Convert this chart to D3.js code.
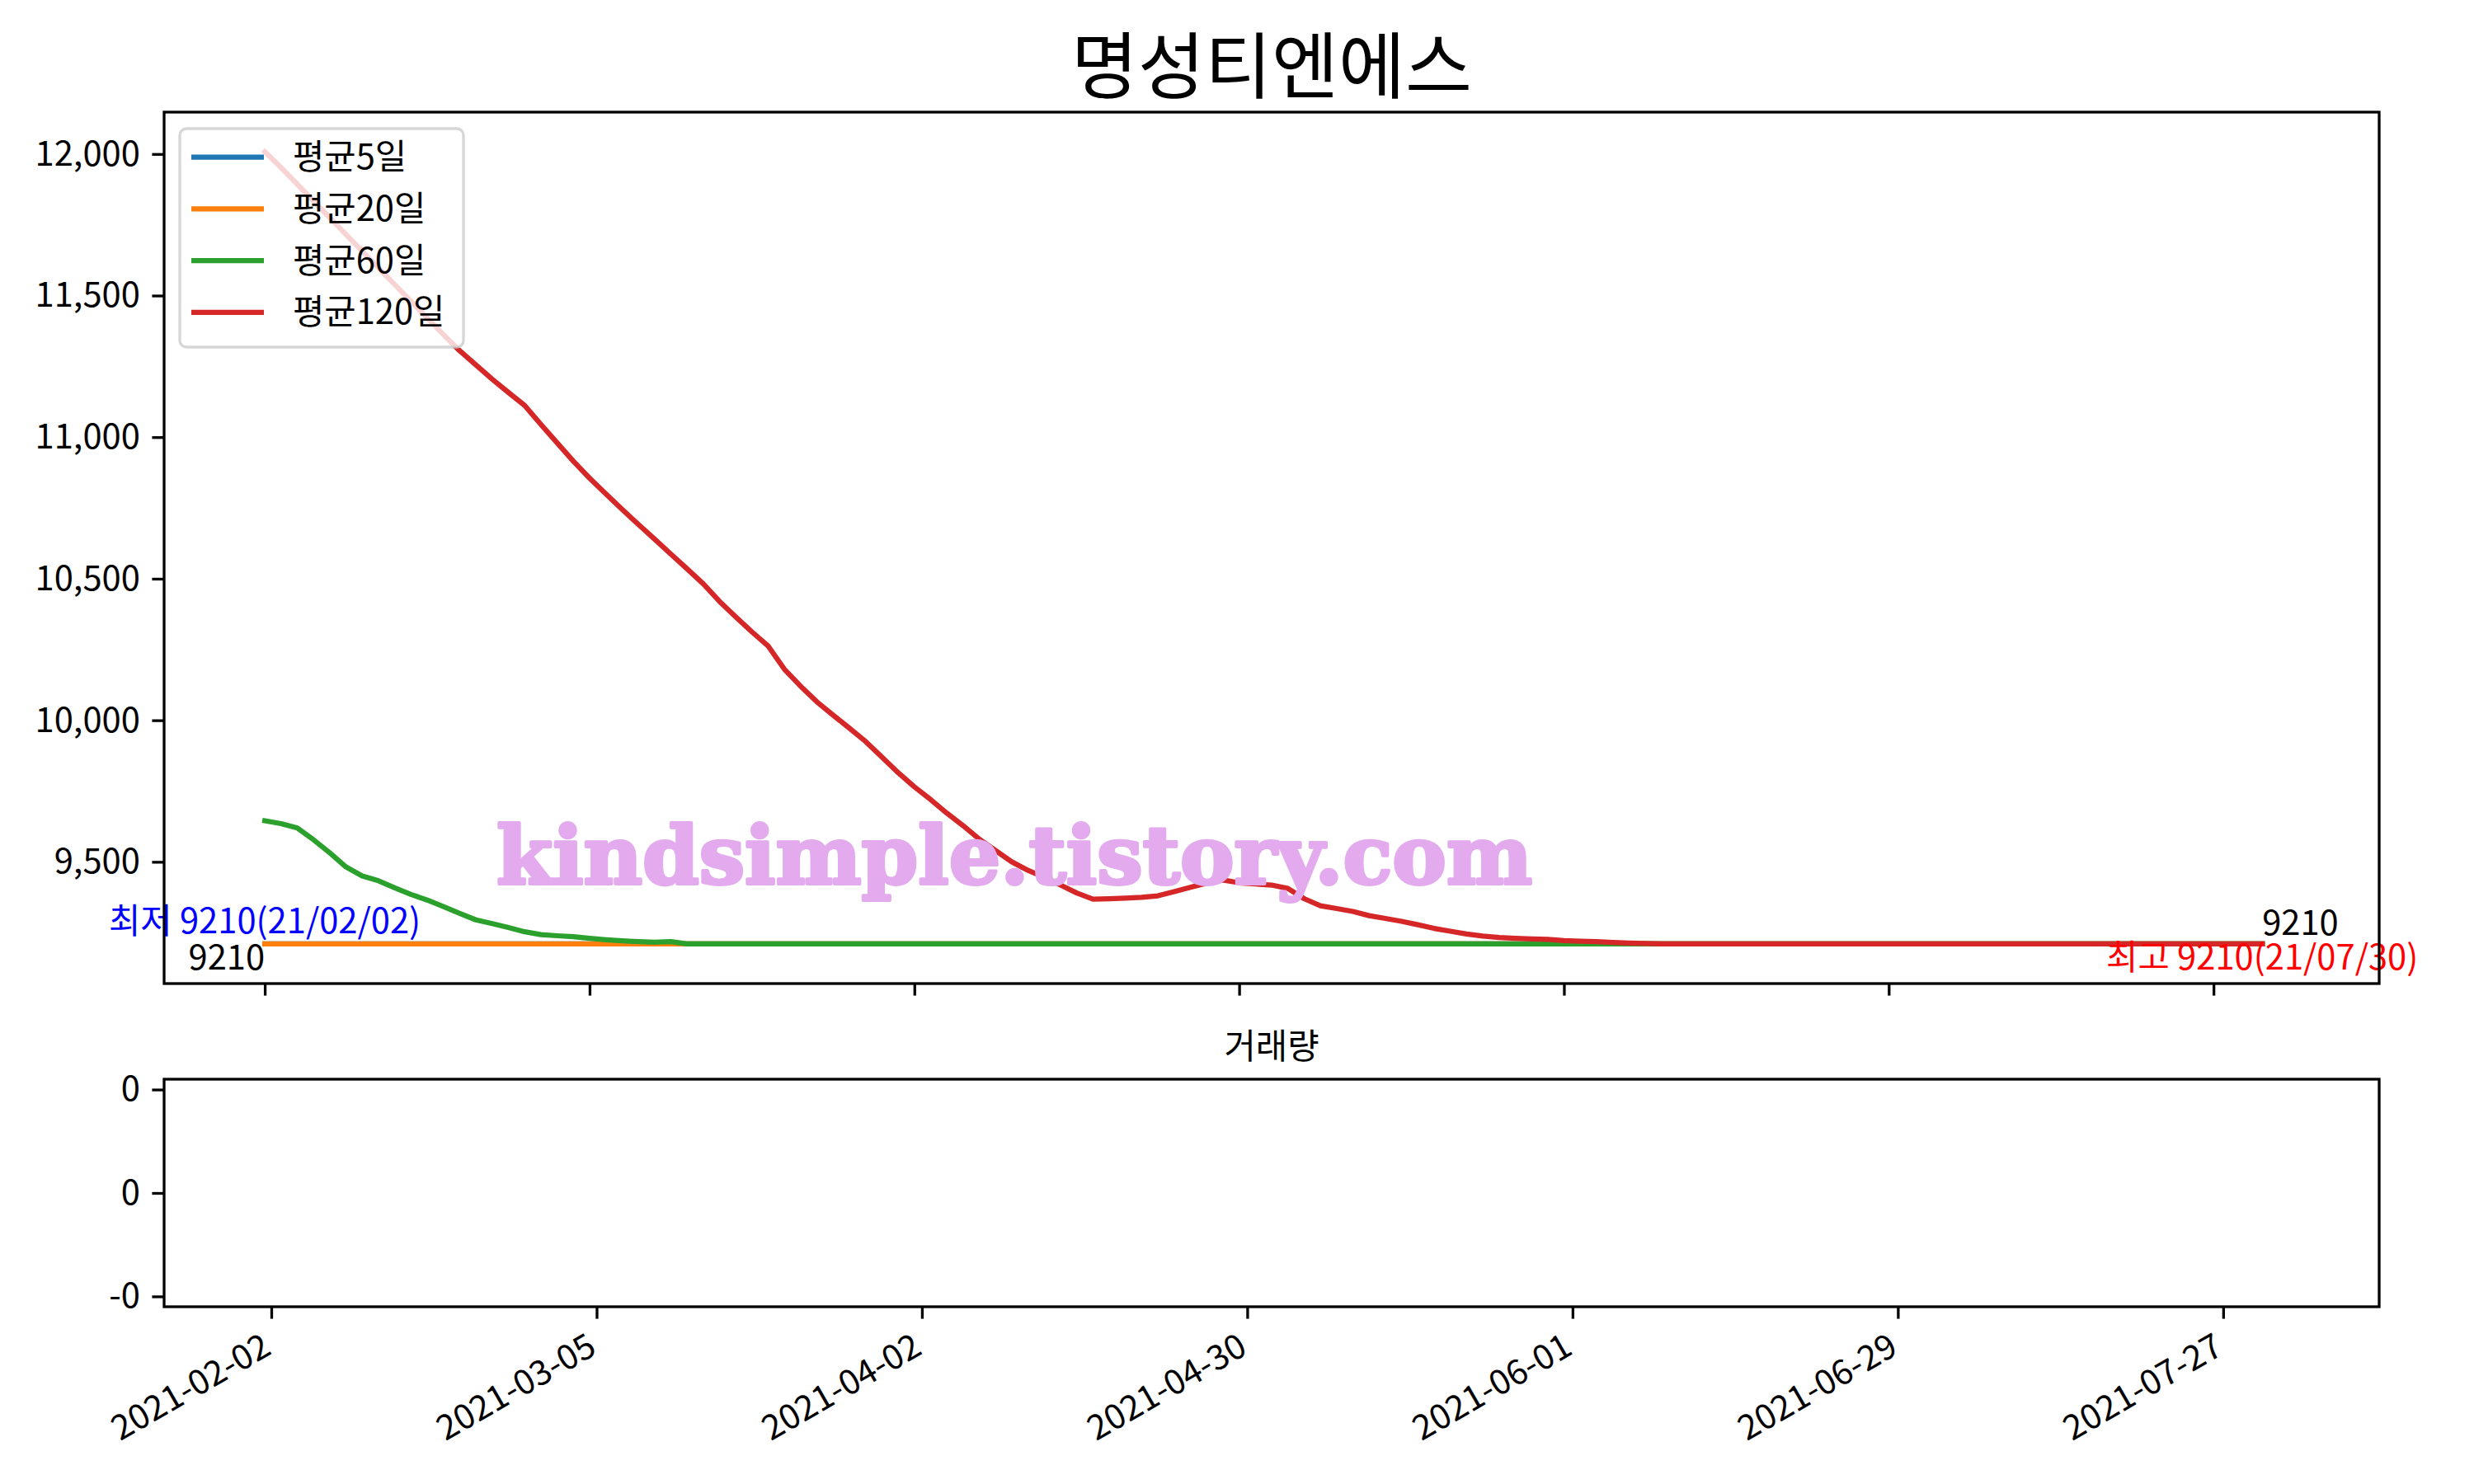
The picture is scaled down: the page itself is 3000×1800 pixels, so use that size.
<!DOCTYPE html>
<html>
<head>
<meta charset="utf-8">
<script src="https://cdn.jsdelivr.net/npm/d3@7"></script>
<style>
  body { margin: 0; background: #fff; }
  text { font-family: "Noto Sans CJK KR", "Noto Sans", sans-serif; }
</style>
</head>
<body>
<svg id="chart"></svg>
<script>
const title = "명성티엔에스"
const volTitle = "거래량"
const seriesNames = ["평균5일", "평균20일", "평균60일", "평균120일"]
const seriesColors = ["#1f77b4", "#ff7f0e", "#2ca02c", "#d62728"]

// moving averages, one value per trading day (124 days, 2021-02-02 .. 2021-07-30)
const ma5 = [
  9210, 9210, 9210, 9210, 9210, 9210, 9210, 9210, 9210, 9210,
  9210, 9210, 9210, 9210, 9210, 9210, 9210, 9210, 9210, 9210,
  9210, 9210, 9210, 9210, 9210, 9210, 9210, 9210, 9210, 9210,
  9210, 9210, 9210, 9210, 9210, 9210, 9210, 9210, 9210, 9210,
  9210, 9210, 9210, 9210, 9210, 9210, 9210, 9210, 9210, 9210,
  9210, 9210, 9210, 9210, 9210, 9210, 9210, 9210, 9210, 9210,
  9210, 9210, 9210, 9210, 9210, 9210, 9210, 9210, 9210, 9210,
  9210, 9210, 9210, 9210, 9210, 9210, 9210, 9210, 9210, 9210,
  9210, 9210, 9210, 9210, 9210, 9210, 9210, 9210, 9210, 9210,
  9210, 9210, 9210, 9210, 9210, 9210, 9210, 9210, 9210, 9210,
  9210, 9210, 9210, 9210, 9210, 9210, 9210, 9210, 9210, 9210,
  9210, 9210, 9210, 9210, 9210, 9210, 9210, 9210, 9210, 9210,
  9210, 9210, 9210, 9210
]
const ma20 = [
  9210, 9210, 9210, 9210, 9210, 9210, 9210, 9210, 9210, 9210,
  9210, 9210, 9210, 9210, 9210, 9210, 9210, 9210, 9210, 9210,
  9210, 9210, 9210, 9210, 9210, 9210, 9210, 9210, 9210, 9210,
  9210, 9210, 9210, 9210, 9210, 9210, 9210, 9210, 9210, 9210,
  9210, 9210, 9210, 9210, 9210, 9210, 9210, 9210, 9210, 9210,
  9210, 9210, 9210, 9210, 9210, 9210, 9210, 9210, 9210, 9210,
  9210, 9210, 9210, 9210, 9210, 9210, 9210, 9210, 9210, 9210,
  9210, 9210, 9210, 9210, 9210, 9210, 9210, 9210, 9210, 9210,
  9210, 9210, 9210, 9210, 9210, 9210, 9210, 9210, 9210, 9210,
  9210, 9210, 9210, 9210, 9210, 9210, 9210, 9210, 9210, 9210,
  9210, 9210, 9210, 9210, 9210, 9210, 9210, 9210, 9210, 9210,
  9210, 9210, 9210, 9210, 9210, 9210, 9210, 9210, 9210, 9210,
  9210, 9210, 9210, 9210
]
const ma60 = [
  9645, 9635, 9620, 9578, 9532, 9482, 9450, 9433, 9408, 9385,
  9365, 9342, 9318, 9295, 9282, 9268, 9253, 9243, 9239, 9236,
  9230, 9225, 9221, 9218, 9216, 9218, 9210, 9210, 9210, 9210,
  9210, 9210, 9210, 9210, 9210, 9210, 9210, 9210, 9210, 9210,
  9210, 9210, 9210, 9210, 9210, 9210, 9210, 9210, 9210, 9210,
  9210, 9210, 9210, 9210, 9210, 9210, 9210, 9210, 9210, 9210,
  9210, 9210, 9210, 9210, 9210, 9210, 9210, 9210, 9210, 9210,
  9210, 9210, 9210, 9210, 9210, 9210, 9210, 9210, 9210, 9210,
  9210, 9210, 9210, 9210, 9210, 9210, 9210, 9210, 9210, 9210,
  9210, 9210, 9210, 9210, 9210, 9210, 9210, 9210, 9210, 9210,
  9210, 9210, 9210, 9210, 9210, 9210, 9210, 9210, 9210, 9210,
  9210, 9210, 9210, 9210, 9210, 9210, 9210, 9210, 9210, 9210,
  9210, 9210, 9210, 9210
]
const ma120 = [
  12008, 11952, 11893, 11834, 11775, 11716, 11657, 11598, 11539, 11480,
  11421, 11362, 11305, 11255, 11205, 11158, 11112, 11045, 10980, 10915,
  10855, 10800, 10745, 10692, 10640, 10587, 10535, 10482, 10420, 10365,
  10312, 10262, 10180, 10120, 10065, 10018, 9972, 9925, 9870, 9815,
  9765, 9720, 9672, 9628, 9580, 9540, 9500, 9470, 9445, 9418,
  9390, 9368, 9370, 9372, 9375, 9380, 9395, 9410, 9425, 9436,
  9426, 9422, 9418, 9406, 9370, 9345, 9335, 9325, 9310, 9300,
  9290, 9278, 9265, 9255, 9245, 9238, 9233, 9230, 9228, 9226,
  9222, 9220, 9218, 9215, 9213, 9212, 9210, 9210, 9210, 9210,
  9210, 9210, 9210, 9210, 9210, 9210, 9210, 9210, 9210, 9210,
  9210, 9210, 9210, 9210, 9210, 9210, 9210, 9210, 9210, 9210,
  9210, 9210, 9210, 9210, 9210, 9210, 9210, 9210, 9210, 9210,
  9210, 9210, 9210, 9210
]
const volume = [
  0, 0, 0, 0, 0, 0, 0, 0, 0, 0, 0, 0, 0, 0, 0, 0, 0, 0, 0, 0,
  0, 0, 0, 0, 0, 0, 0, 0, 0, 0, 0, 0, 0, 0, 0, 0, 0, 0, 0, 0,
  0, 0, 0, 0, 0, 0, 0, 0, 0, 0, 0, 0, 0, 0, 0, 0, 0, 0, 0, 0,
  0, 0, 0, 0, 0, 0, 0, 0, 0, 0, 0, 0, 0, 0, 0, 0, 0, 0, 0, 0,
  0, 0, 0, 0, 0, 0, 0, 0, 0, 0, 0, 0, 0, 0, 0, 0, 0, 0, 0, 0,
  0, 0, 0, 0, 0, 0, 0, 0, 0, 0, 0, 0, 0, 0, 0, 0, 0, 0, 0, 0,
  0, 0, 0, 0
]

const tickIdx = [0, 20, 40, 60, 80, 100, 120]
const tickLabels = ["2021-02-02", "2021-03-05", "2021-04-02", "2021-04-30", "2021-06-01", "2021-06-29", "2021-07-27"]
const yTicks = [9500, 10000, 10500, 11000, 11500, 12000]
const volTicks = [-0.05, 0, 0.05]

// close price min / max info
const lowPrice = 9210, lowDate = "21/02/02"
const highPrice = 9210, highDate = "21/07/30"
const firstClose = 9210, lastClose = 9210

const watermark = "kindsimple.tistory.com"

const W = 3000, H = 1800
const fs = 41.7          // 10pt at 300dpi
const lw = 3.3           // spine / tick width
const tickLen = 14.6
const main = { left: 199, right: 2885, top: 136, bottom: 1193 }
const vol = { left: 199, right: 2885, top: 1309, bottom: 1585 }

const svg = d3.select("#chart").attr("width", W).attr("height", H)
svg.append("rect").attr("width", W).attr("height", H).attr("fill", "#fff")

const n = ma120.length
const series = [ma5, ma20, ma60, ma120]

// main scales (matplotlib 5% margins)
const x = d3.scaleLinear()
  .domain([-0.05 * n, n * 1.05])
  .range([main.left, main.right])
const [lo, hi] = d3.extent(series.flat())
const pad = (hi - lo) * 0.05
const y = d3.scaleLinear()
  .domain([lo - pad, hi + pad])
  .range([main.bottom, main.top])

// volume scales (bars of width 0.8)
const span = (n - 1) + 0.8
const x2 = d3.scaleLinear()
  .domain([-0.4 - 0.05 * span, n - 1 + 0.4 + 0.05 * span])
  .range([vol.left, vol.right])
const y2 = d3.scaleLinear()
  .domain([-0.055, 0.055])
  .range([vol.bottom, vol.top])

function styleAxis(g) {
  g.select(".domain").remove()
  g.selectAll(".tick line").attr("stroke", "#000").attr("stroke-width", lw)
  g.selectAll(".tick text")
    .attr("fill", "#000")
    .style("font-size", fs + "px")
    .style("font-family", '"Noto Sans CJK KR", sans-serif')
}

// title
svg.append("text")
  .attr("x", (main.left + main.right) / 2)
  .attr("y", 112)
  .attr("text-anchor", "middle")
  .style("font-size", "88px")
  .text(title)

// lines
const line = d3.line()
  .x((d, i) => x(i))
  .y(d => y(d))
const plot = svg.append("g")
series.forEach((s, k) => {
  plot.append("path")
    .datum(s)
    .attr("d", line)
    .attr("fill", "none")
    .attr("stroke", seriesColors[k])
    .attr("stroke-width", 6.25)
    .attr("stroke-linejoin", "round")
    .attr("stroke-linecap", "square")
})

// annotations
const ann = svg.append("g").style("font-size", fs + "px")
ann.append("text")
  .attr("x", x(0)).attr("y", y(lowPrice) - 13)
  .attr("text-anchor", "middle").attr("fill", "blue")
  .text(`최저 ${lowPrice}(${lowDate})`)
ann.append("text")
  .attr("x", x(0)).attr("y", y(firstClose) + 31)
  .attr("text-anchor", "end").attr("fill", "#000")
  .text(firstClose)
ann.append("text")
  .attr("x", x(n - 1)).attr("y", y(lastClose) - 11)
  .attr("text-anchor", "start").attr("fill", "#000")
  .text(lastClose)
ann.append("text")
  .attr("x", x(n - 1)).attr("y", y(highPrice) + 31)
  .attr("text-anchor", "middle").attr("fill", "red")
  .text(`최고 ${highPrice}(${highDate})`)

// main axes
svg.append("g")
  .attr("transform", `translate(${main.left},0)`)
  .call(d3.axisLeft(y).tickValues(yTicks).tickFormat(d3.format(",")).tickSize(tickLen).tickPadding(tickLen))
  .call(styleAxis)
svg.append("g")
  .attr("transform", `translate(0,${main.bottom})`)
  .call(d3.axisBottom(x).tickValues(tickIdx).tickFormat("").tickSize(tickLen))
  .call(styleAxis)
svg.append("rect")
  .attr("x", main.left).attr("y", main.top)
  .attr("width", main.right - main.left).attr("height", main.bottom - main.top)
  .attr("fill", "none").attr("stroke", "#000").attr("stroke-width", lw)

// legend
const lg = svg.append("g")
lg.append("rect")
  .attr("x", 218).attr("y", 156).attr("width", 344).attr("height", 265).attr("rx", 8)
  .attr("fill", "#fff").attr("fill-opacity", 0.8)
  .attr("stroke", "#ccc").attr("stroke-opacity", 0.8).attr("stroke-width", lw)
seriesNames.forEach((name, k) => {
  const ly = 190.7 + k * 62.7
  lg.append("line")
    .attr("x1", 232).attr("x2", 320).attr("y1", ly).attr("y2", ly)
    .attr("stroke", seriesColors[k]).attr("stroke-width", 6.25)
  lg.append("text")
    .attr("x", 355).attr("y", ly).attr("dy", "0.35em")
    .style("font-size", fs + "px")
    .text(name)
})

// volume panel
svg.append("text")
  .attr("x", (vol.left + vol.right) / 2).attr("y", 1284)
  .attr("text-anchor", "middle")
  .style("font-size", fs + "px")
  .text(volTitle)
svg.append("g").selectAll("rect")
  .data(volume)
  .enter()
  .append("rect")
  .attr("x", (d, i) => x2(i - 0.4))
  .attr("width", x2(0.8) - x2(0))
  .attr("y", d => y2(Math.max(d, 0)))
  .attr("height", d => Math.abs(y2(d) - y2(0)))
  .attr("fill", "#1f77b4")
// matplotlib-style "{:,.0f}" keeps the sign of small negatives ("-0")
const volFmt = d => (d < 0 ? "-" : "") + d3.format(",.0f")(Math.abs(d))
svg.append("g")
  .attr("transform", `translate(${vol.left},0)`)
  .call(d3.axisLeft(y2).tickValues(volTicks).tickFormat(volFmt)
    .tickSize(tickLen).tickPadding(tickLen))
  .call(styleAxis)
const xb = svg.append("g")
  .attr("transform", `translate(0,${vol.bottom})`)
  .call(d3.axisBottom(x2).tickValues(tickIdx).tickFormat((d, i) => tickLabels[i]).tickSize(tickLen))
  .call(styleAxis)
xb.selectAll(".tick text")
  .attr("text-anchor", "end")
  .attr("x", 0).attr("y", 0).attr("dy", "0.75em")
  .attr("transform", `translate(-14,${2 * tickLen}) rotate(-30)`)
svg.append("rect")
  .attr("x", vol.left).attr("y", vol.top)
  .attr("width", vol.right - vol.left).attr("height", vol.bottom - vol.top)
  .attr("fill", "none").attr("stroke", "#000").attr("stroke-width", lw)

// watermark
svg.append("text")
  .attr("x", 602).attr("y", 1072)
  .attr("textLength", 1256).attr("lengthAdjust", "spacingAndGlyphs")
  .attr("fill", "#e3aaee")
  .attr("stroke", "#e3aaee").attr("stroke-width", 4).attr("stroke-linejoin", "round")
  .style("font-family", '"DejaVu Serif", serif')
  .style("font-weight", "bold")
  .style("font-size", "98px")
  .text(watermark)
</script>
</body>
</html>
